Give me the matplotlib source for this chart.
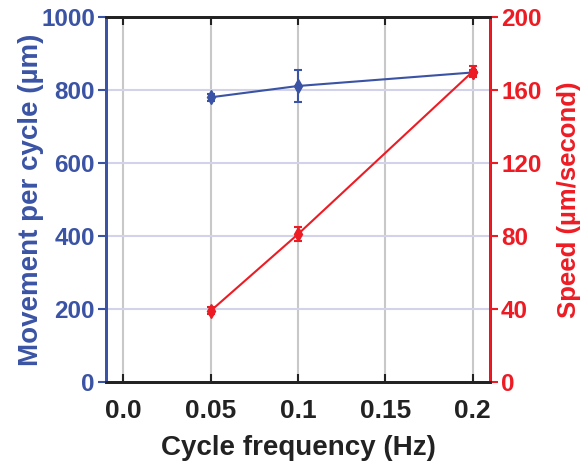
import matplotlib
matplotlib.use('Agg')
import matplotlib.pyplot as plt

plt.rcParams['font.family'] = ['Liberation Sans', 'DejaVu Sans']
plt.rcParams['font.weight'] = 'bold'

freq = [0.05, 0.1, 0.2]
movement = [780, 811, 848]
movement_err = [10, 44, 8]
speed = [39, 81, 170]
speed_err = [2, 4, 3]

xticks = [0.0, 0.05, 0.1, 0.15, 0.2]
xticklabels = ['0.0', '0.05', '0.1', '0.15', '0.2']

blue = '#3a53a4'
red = '#ed1c24'

fig = plt.figure(figsize=(5.88, 4.66), dpi=100)
ax = fig.add_axes([106/588, 1 - 382/466, 384/588, 365/466])
ax2 = ax.twinx()

ax.set_xlim(-0.01, 0.21)
ax.set_ylim(0, 1000)
ax2.set_ylim(0, 200)

# grid
for x in xticks:
    ax.axvline(x, color='#c8c8c8', lw=1.5, zorder=0)
for y in [200, 400, 600, 800]:
    ax.axhline(y, color='#d2d2ea', lw=1.5, zorder=0)

ax.errorbar(freq, movement, yerr=movement_err, color=blue, marker='d', ms=7,
            lw=1.5, capsize=3, elinewidth=1.5, capthick=1.5, zorder=3)
ax2.errorbar(freq, speed, yerr=speed_err, color=red, marker='d', ms=7,
             lw=1.5, capsize=3, elinewidth=1.5, capthick=1.5, zorder=3)

ax.set_xticks(xticks)
ax.set_xticklabels(xticklabels)
ax.set_yticks(range(0, 1001, 200))
ax2.set_yticks(range(0, 201, 40))

ax.tick_params(axis='x', direction='in', length=6, width=1.5, labelsize=19,
               top=True, pad=12, colors='#222222')
ax.tick_params(axis='y', direction='out', length=6, width=1.5, labelsize=17.5,
               colors=blue, pad=2)
ax2.tick_params(axis='y', direction='out', length=6, width=1.5, labelsize=17.5,
                colors=red, pad=2)

for a in (ax, ax2):
    a.spines['top'].set_color('#222222')
    a.spines['bottom'].set_color('#222222')
    for s in a.spines.values():
        s.set_linewidth(2)
ax2.spines['left'].set_color(blue)
ax2.spines['right'].set_color(red)
ax.spines['left'].set_color(blue)

ax.set_xlabel('Cycle frequency (Hz)', fontsize=20, fontweight='bold',
              color='#222222', labelpad=9)
ax.set_ylabel('Movement per cycle (µm)', fontsize=20, fontweight='bold',
              color=blue, labelpad=-2)
ax2.set_ylabel('Speed (µm/second)', fontsize=18.5, fontweight='bold',
               color=red, labelpad=11)

fig.savefig('out.png', dpi=100)
